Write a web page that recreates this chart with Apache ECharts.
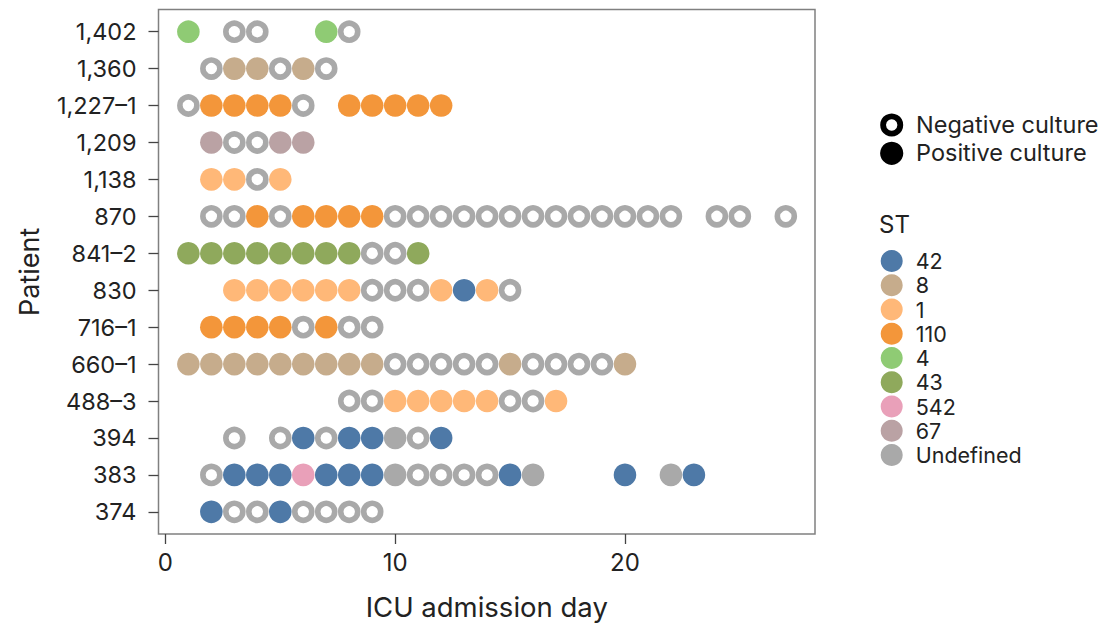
<!DOCTYPE html>
<html>
<head>
<meta charset="utf-8">
<script src="https://cdn.jsdelivr.net/npm/echarts@6/dist/echarts.min.js"></script>
<style>
  html, body { margin: 0; padding: 0; background: #fff; }
  #chart { width: 1105px; height: 627px; }
</style>
</head>
<body>
<div id="chart"></div>
<script>
// Patients, top row first
const patients = ['1,402', '1,360', '1,227–1', '1,209', '1,138', '870', '841–2', '830', '716–1', '660–1', '488–3', '394', '383', '374'];

// Sequence types shown in the legend
const stTypes = ['42', '8', '1', '110', '4', '43', '542', '67', 'Undefined'];

// ICU admission day of every culture, one list per patient
const cultureDays = [
  [1, 3, 4, 7, 8],
  [2, 3, 4, 5, 6, 7],
  [1, 2, 3, 4, 5, 6, 8, 9, 10, 11, 12],
  [2, 3, 4, 5, 6],
  [2, 3, 4, 5],
  [2, 3, 4, 5, 6, 7, 8, 9, 10, 11, 12, 13, 14, 15, 16, 17, 18, 19, 20, 21, 22, 24, 25, 27],
  [1, 2, 3, 4, 5, 6, 7, 8, 9, 10, 11],
  [3, 4, 5, 6, 7, 8, 9, 10, 11, 12, 13, 14, 15],
  [2, 3, 4, 5, 6, 7, 8, 9],
  [1, 2, 3, 4, 5, 6, 7, 8, 9, 10, 11, 12, 13, 14, 15, 16, 17, 18, 19, 20],
  [8, 9, 10, 11, 12, 13, 14, 15, 16, 17],
  [3, 5, 6, 7, 8, 9, 10, 11, 12],
  [2, 3, 4, 5, 6, 7, 8, 9, 10, 11, 12, 13, 14, 15, 16, 20, 22, 23],
  [2, 3, 4, 5, 6, 7, 8, 9]
];

// Result of each culture: ST of the isolate, '-' for a negative culture
const cultureST = [
  ['4', '-', '-', '4', '-'],
  ['-', '8', '8', '-', '8', '-'],
  ['-', '110', '110', '110', '110', '-', '110', '110', '110', '110', '110'],
  ['67', '-', '-', '67', '67'],
  ['1', '1', '-', '1'],
  ['-', '-', '110', '-', '110', '110', '110', '110', '-', '-', '-', '-', '-', '-', '-', '-', '-', '-', '-', '-', '-', '-', '-', '-'],
  ['43', '43', '43', '43', '43', '43', '43', '43', '-', '-', '43'],
  ['1', '1', '1', '1', '1', '1', '-', '-', '-', '1', '42', '1', '-'],
  ['110', '110', '110', '110', '-', '110', '-', '-'],
  ['8', '8', '8', '8', '8', '8', '8', '8', '8', '-', '-', '-', '-', '-', '8', '-', '-', '-', '-', '8'],
  ['-', '-', '1', '1', '1', '1', '1', '-', '-', '1'],
  ['-', '-', '42', '-', '42', '42', 'Undefined', '-', '42'],
  ['-', '42', '42', '42', '542', '42', '42', '42', 'Undefined', '-', '-', '-', '-', '42', 'Undefined', '42', 'Undefined', '42'],
  ['42', '-', '-', '42', '-', '-', '-', '-']
];

// Axis tick values
const dayTicks = [0, 10, 20];
const rowTicks = patients.map((_, i) => i);

// Styling
const stColors = {
  '42': '#4E79A7',
  '8': '#C6AC8C',
  '1': '#FFB878',
  '110': '#F3963A',
  '4': '#8FCB74',
  '43': '#8FA95C',
  '542': '#E9A0B9',
  '67': '#BAA2A4',
  'Undefined': '#A9A9A9'
};
const FONT = 'Inter';
const TEXT = '#222';
const RING = '#A9A9A9';

// Split cultures into the negative ring layer and one filled layer per ST
const negativeData = [];
const positiveData = {};
stTypes.forEach(st => { positiveData[st] = []; });
cultureDays.forEach((days, row) => {
  days.forEach((day, k) => {
    const st = cultureST[row][k];
    if (st === '-') negativeData.push([day, row]);
    else positiveData[st].push([day, row]);
  });
});

const series = [{
  name: 'Negative culture',
  type: 'scatter',
  data: negativeData,
  symbol: 'circle',
  symbolSize: 17,
  itemStyle: { color: '#fff', borderColor: RING, borderWidth: 5.6, opacity: 1 },
  emphasis: { disabled: true }
}].concat(stTypes.map(st => ({
  name: st,
  type: 'scatter',
  data: positiveData[st],
  symbol: 'circle',
  symbolSize: 22.6,
  itemStyle: { color: stColors[st], opacity: 1 },
  emphasis: { disabled: true }
})));

const chart = echarts.init(document.getElementById('chart'), null, { renderer: 'svg' });
chart.setOption({
  animation: false,
  backgroundColor: '#fff',
  textStyle: { fontFamily: FONT },
  grid: {
    left: 158.5, top: 9.5, right: 290, bottom: 93,
    show: true, borderColor: '#808080', borderWidth: 1.5, backgroundColor: 'transparent'
  },
  xAxis: {
    type: 'value',
    position: 'bottom',
    min: -0.3,
    max: 28.27,
    name: 'ICU admission day',
    nameLocation: 'middle',
    nameGap: 59,
    nameTextStyle: { fontSize: 27.5, color: TEXT, fontFamily: FONT },
    axisLine: { show: false, onZero: false },
    splitLine: { show: false },
    axisTick: { show: true, length: 10, customValues: dayTicks, lineStyle: { color: '#444', width: 1.3 } },
    axisLabel: { customValues: dayTicks, margin: 16, fontSize: 24, color: TEXT, fontFamily: FONT }
  },
  yAxis: {
    type: 'value',
    position: 'left',
    inverse: true,
    min: -0.6,
    max: 13.6,
    name: 'Patient',
    nameLocation: 'middle',
    nameGap: 116,
    nameTextStyle: { fontSize: 27, color: TEXT, fontFamily: FONT },
    axisLine: { show: false, onZero: false },
    splitLine: { show: false },
    axisTick: { show: true, length: 10, customValues: rowTicks, lineStyle: { color: '#444', width: 1.3 } },
    axisLabel: {
      customValues: rowTicks, margin: 22, fontSize: 23.5, color: TEXT, fontFamily: FONT,
      formatter: v => patients[Math.round(v)]
    }
  },
  legend: {
    data: stTypes,
    orient: 'vertical',
    left: 880.7,
    top: 250,
    padding: 0,
    itemWidth: 22,
    itemHeight: 22,
    itemGap: 2.25,
    icon: 'circle',
    selectedMode: false,
    textStyle: { fontSize: 21.5, color: TEXT, fontFamily: FONT, lineHeight: 22, padding: [0, 0, 0, 8] }
  },
  graphic: [
    { type: 'circle', shape: { cx: 891.7, cy: 125, r: 8.6 }, style: { fill: '#fff', stroke: '#000', lineWidth: 5.8 } },
    { type: 'circle', shape: { cx: 891.7, cy: 153.3, r: 11.6 }, style: { fill: '#000' } },
    { type: 'text', x: 916, y: 124, style: { text: 'Negative culture', fontSize: 23.5, fontFamily: FONT, fill: TEXT, verticalAlign: 'middle' } },
    { type: 'text', x: 916, y: 152.3, style: { text: 'Positive culture', fontSize: 23.5, fontFamily: FONT, fill: TEXT, verticalAlign: 'middle' } },
    { type: 'text', x: 879, y: 224, style: { text: 'ST', fontSize: 24, fontFamily: FONT, fill: TEXT, verticalAlign: 'middle' } }
  ],
  series: series
});
</script>
</body>
</html>
